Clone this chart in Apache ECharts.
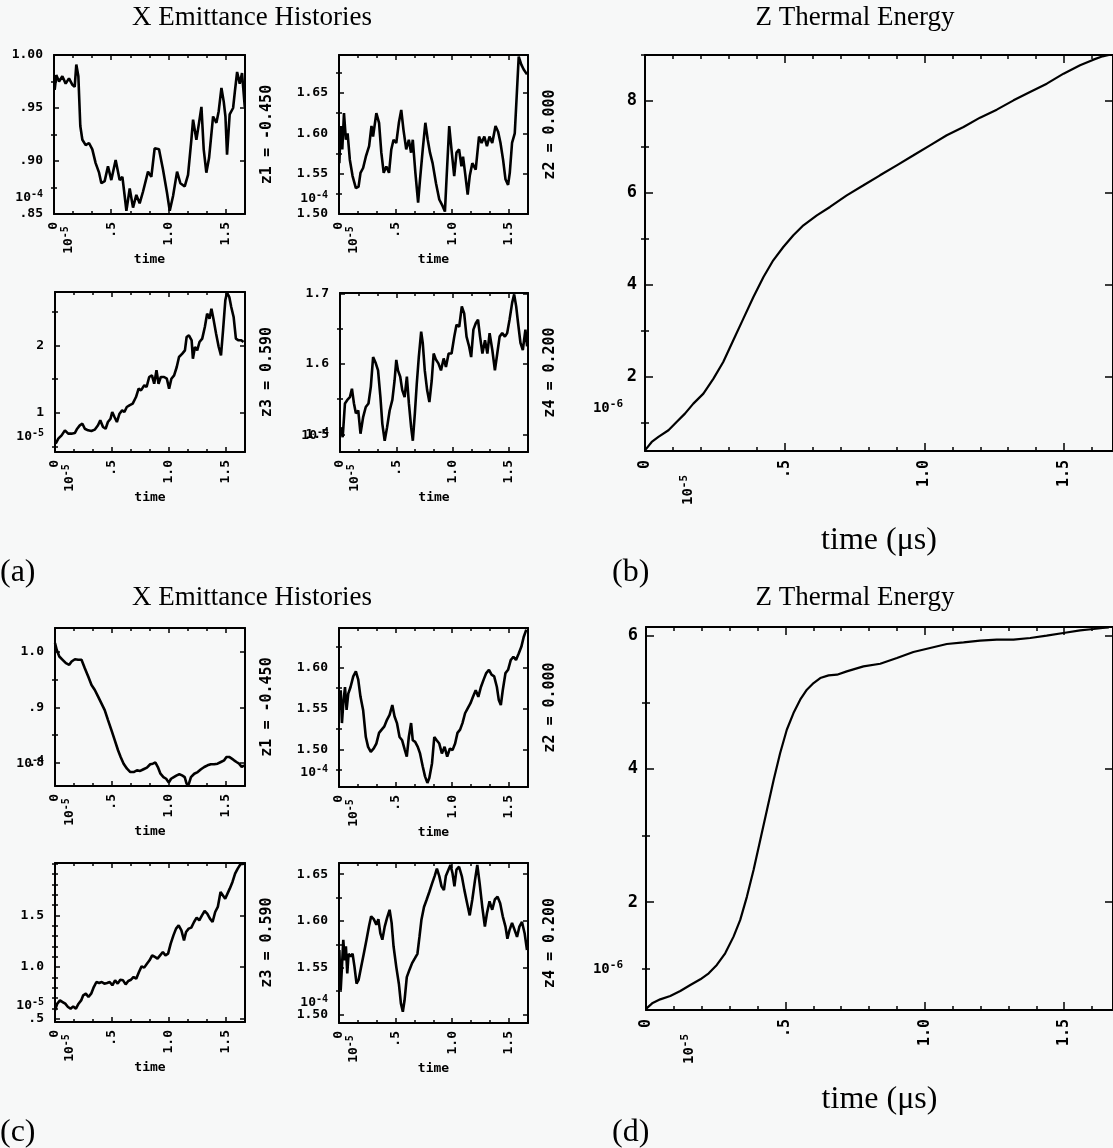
<!DOCTYPE html>
<html><head><meta charset="utf-8">
<script src="https://cdn.jsdelivr.net/npm/echarts@6/dist/echarts.min.js"></script>
<style>html,body{margin:0;padding:0;background:#f7f8f8}#c{width:1113px;height:1148px}</style>
</head><body><div id="c"></div>
<script>
// ---------------- data (time in us, value) ----------------
const a_z1 = [[0.006,0.967],[0.020,0.981],[0.044,0.975],[0.073,0.980],[0.102,0.973],[0.131,0.978],[0.160,0.972],[0.181,0.970],[0.195,0.991],[0.213,0.980],[0.230,0.933],[0.248,0.920],[0.277,0.915],[0.306,0.917],[0.335,0.911],[0.364,0.898],[0.394,0.889],[0.414,0.879],[0.443,0.881],[0.472,0.895],[0.501,0.882],[0.539,0.901],[0.574,0.882],[0.598,0.885],[0.618,0.867],[0.633,0.853],[0.662,0.874],[0.691,0.856],[0.720,0.868],[0.749,0.860],[0.778,0.871],[0.822,0.890],[0.851,0.885],[0.880,0.912],[0.918,0.911],[0.953,0.892],[0.988,0.870],[1.012,0.853],[1.041,0.867],[1.076,0.890],[1.105,0.879],[1.143,0.876],[1.172,0.887],[1.201,0.920],[1.216,0.939],[1.245,0.920],[1.268,0.936],[1.289,0.951],[1.309,0.911],[1.332,0.889],[1.356,0.903],[1.391,0.942],[1.420,0.936],[1.440,0.947],[1.464,0.969],[1.484,0.956],[1.499,0.942],[1.513,0.906],[1.536,0.944],[1.566,0.950],[1.583,0.967],[1.601,0.984],[1.624,0.973],[1.644,0.983],[1.668,0.951]];
const a_z2 = [[0.003,1.563],[0.015,1.609],[0.029,1.580],[0.044,1.625],[0.061,1.592],[0.076,1.600],[0.096,1.567],[0.120,1.547],[0.149,1.532],[0.173,1.534],[0.190,1.551],[0.213,1.557],[0.237,1.571],[0.266,1.584],[0.287,1.609],[0.301,1.596],[0.330,1.625],[0.354,1.613],[0.374,1.576],[0.395,1.551],[0.418,1.559],[0.442,1.551],[0.462,1.580],[0.482,1.592],[0.506,1.588],[0.529,1.613],[0.550,1.629],[0.570,1.604],[0.594,1.580],[0.617,1.592],[0.637,1.576],[0.652,1.592],[0.675,1.551],[0.699,1.514],[0.716,1.543],[0.740,1.580],[0.763,1.613],[0.784,1.592],[0.804,1.576],[0.827,1.563],[0.857,1.538],[0.886,1.518],[0.915,1.510],[0.936,1.503],[0.950,1.543],[0.974,1.609],[0.994,1.580],[1.018,1.547],[1.038,1.576],[1.061,1.580],[1.082,1.559],[1.096,1.571],[1.114,1.551],[1.137,1.524],[1.155,1.547],[1.178,1.563],[1.208,1.555],[1.237,1.596],[1.260,1.588],[1.284,1.596],[1.307,1.584],[1.330,1.596],[1.354,1.588],[1.383,1.609],[1.406,1.602],[1.427,1.588],[1.450,1.567],[1.471,1.543],[1.494,1.536],[1.509,1.551],[1.529,1.588],[1.553,1.600],[1.573,1.654],[1.588,1.695],[1.611,1.685],[1.632,1.679],[1.661,1.673]];
const a_z3 = [[0.006,0.547],[0.029,0.621],[0.058,0.670],[0.087,0.744],[0.116,0.695],[0.145,0.695],[0.174,0.704],[0.195,0.768],[0.218,0.818],[0.241,0.842],[0.262,0.768],[0.291,0.744],[0.320,0.734],[0.349,0.754],[0.378,0.818],[0.398,0.892],[0.422,0.793],[0.445,0.768],[0.465,0.867],[0.488,0.916],[0.503,1.015],[0.523,0.941],[0.544,0.867],[0.567,0.990],[0.590,1.039],[0.610,1.015],[0.631,1.089],[0.654,1.113],[0.683,1.138],[0.712,1.236],[0.735,1.360],[0.756,1.335],[0.785,1.409],[0.805,1.384],[0.828,1.532],[0.852,1.557],[0.872,1.433],[0.892,1.631],[0.910,1.433],[0.930,1.532],[0.959,1.532],[0.983,1.507],[1.003,1.360],[1.023,1.507],[1.047,1.557],[1.070,1.680],[1.090,1.828],[1.119,1.877],[1.142,1.926],[1.157,2.123],[1.177,2.148],[1.201,2.074],[1.212,1.803],[1.230,1.975],[1.250,1.926],[1.270,2.049],[1.294,2.099],[1.317,2.271],[1.337,2.468],[1.358,2.394],[1.375,2.542],[1.395,2.369],[1.416,2.172],[1.439,1.975],[1.459,1.852],[1.477,2.222],[1.497,2.665],[1.512,2.780],[1.532,2.714],[1.549,2.567],[1.570,2.419],[1.590,2.099],[1.613,2.074],[1.637,2.074],[1.657,2.049]];
const a_z4 = [[0.006,1.510],[0.024,1.496],[0.044,1.544],[0.065,1.549],[0.088,1.553],[0.106,1.565],[0.124,1.544],[0.141,1.530],[0.162,1.534],[0.182,1.501],[0.206,1.525],[0.229,1.539],[0.253,1.544],[0.274,1.568],[0.294,1.610],[0.318,1.601],[0.338,1.591],[0.359,1.553],[0.376,1.515],[0.397,1.491],[0.418,1.510],[0.441,1.534],[0.465,1.549],[0.485,1.577],[0.500,1.606],[0.515,1.591],[0.535,1.582],[0.553,1.563],[0.574,1.553],[0.594,1.582],[0.612,1.544],[0.632,1.510],[0.647,1.491],[0.665,1.530],[0.682,1.572],[0.700,1.610],[0.721,1.646],[0.735,1.630],[0.753,1.591],[0.774,1.563],[0.794,1.546],[0.815,1.577],[0.832,1.615],[0.853,1.606],[0.874,1.601],[0.897,1.591],[0.921,1.608],[0.941,1.596],[0.965,1.615],[0.991,1.615],[1.015,1.639],[1.035,1.656],[1.059,1.653],[1.082,1.682],[1.103,1.672],[1.124,1.639],[1.147,1.625],[1.165,1.610],[1.185,1.649],[1.206,1.658],[1.226,1.663],[1.244,1.639],[1.265,1.615],[1.288,1.634],[1.309,1.615],[1.329,1.644],[1.353,1.620],[1.376,1.591],[1.397,1.615],[1.418,1.639],[1.441,1.644],[1.465,1.639],[1.485,1.644],[1.506,1.663],[1.529,1.687],[1.547,1.699],[1.565,1.682],[1.582,1.658],[1.603,1.630],[1.624,1.620],[1.647,1.649],[1.662,1.625]];
const b_energy = [[0.002,0.42],[0.024,0.587],[0.048,0.696],[0.084,0.841],[0.113,1.022],[0.143,1.203],[0.173,1.420],[0.209,1.638],[0.245,1.964],[0.280,2.326],[0.316,2.797],[0.352,3.268],[0.388,3.739],[0.424,4.174],[0.459,4.536],[0.495,4.826],[0.531,5.080],[0.567,5.297],[0.615,5.514],[0.662,5.696],[0.722,5.949],[0.782,6.167],[0.841,6.384],[0.901,6.601],[0.961,6.819],[1.020,7.036],[1.080,7.254],[1.140,7.435],[1.199,7.638],[1.259,7.812],[1.319,8.014],[1.378,8.196],[1.438,8.377],[1.498,8.594],[1.557,8.775],[1.605,8.899],[1.638,8.971],[1.660,9.0]];
const c_z1 = [[0.0,1.015],[0.015,1.003],[0.038,0.991],[0.067,0.985],[0.096,0.979],[0.125,0.976],[0.146,0.982],[0.175,0.986],[0.204,0.985],[0.233,0.985],[0.262,0.970],[0.292,0.955],[0.321,0.940],[0.350,0.931],[0.379,0.919],[0.408,0.907],[0.437,0.895],[0.466,0.877],[0.496,0.859],[0.525,0.841],[0.554,0.823],[0.577,0.811],[0.603,0.799],[0.633,0.790],[0.662,0.784],[0.691,0.784],[0.720,0.787],[0.749,0.786],[0.778,0.789],[0.808,0.792],[0.837,0.798],[0.860,0.799],[0.883,0.801],[0.904,0.793],[0.927,0.781],[0.953,0.775],[0.977,0.772],[1.000,0.765],[1.020,0.772],[1.044,0.775],[1.070,0.778],[1.093,0.780],[1.117,0.778],[1.140,0.775],[1.157,0.763],[1.175,0.762],[1.195,0.775],[1.224,0.781],[1.254,0.784],[1.283,0.789],[1.312,0.793],[1.341,0.796],[1.370,0.798],[1.399,0.798],[1.429,0.799],[1.458,0.802],[1.487,0.805],[1.507,0.811],[1.531,0.811],[1.554,0.808],[1.574,0.805],[1.595,0.802],[1.618,0.799],[1.641,0.793],[1.662,0.796]];
const c_z2 = [[0.003,1.548],[0.015,1.572],[0.026,1.532],[0.038,1.556],[0.053,1.576],[0.067,1.548],[0.082,1.568],[0.102,1.576],[0.126,1.589],[0.149,1.595],[0.170,1.585],[0.190,1.564],[0.213,1.548],[0.237,1.515],[0.257,1.503],[0.281,1.497],[0.307,1.501],[0.330,1.507],[0.354,1.520],[0.377,1.524],[0.401,1.528],[0.424,1.536],[0.447,1.542],[0.471,1.554],[0.491,1.540],[0.512,1.532],[0.535,1.515],[0.558,1.511],[0.582,1.499],[0.599,1.491],[0.617,1.515],[0.637,1.532],[0.652,1.511],[0.673,1.509],[0.696,1.503],[0.716,1.495],[0.740,1.479],[0.760,1.467],[0.781,1.459],[0.798,1.465],[0.822,1.483],[0.842,1.515],[0.863,1.511],[0.886,1.507],[0.909,1.495],[0.933,1.503],[0.956,1.491],[0.980,1.501],[1.003,1.499],[1.026,1.507],[1.047,1.520],[1.070,1.524],[1.091,1.532],[1.114,1.544],[1.137,1.550],[1.161,1.556],[1.184,1.564],[1.208,1.572],[1.231,1.564],[1.254,1.576],[1.278,1.585],[1.301,1.593],[1.325,1.597],[1.348,1.591],[1.371,1.589],[1.395,1.576],[1.412,1.560],[1.430,1.554],[1.447,1.572],[1.471,1.593],[1.494,1.597],[1.518,1.609],[1.541,1.613],[1.564,1.609],[1.588,1.617],[1.611,1.625],[1.632,1.637],[1.655,1.646]];
const c_z3 = [[0.0,0.581],[0.020,0.645],[0.044,0.677],[0.067,0.661],[0.090,0.645],[0.114,0.613],[0.137,0.597],[0.160,0.619],[0.184,0.597],[0.207,0.645],[0.230,0.677],[0.248,0.726],[0.271,0.742],[0.294,0.710],[0.318,0.742],[0.341,0.806],[0.364,0.855],[0.388,0.845],[0.411,0.855],[0.434,0.839],[0.458,0.845],[0.481,0.855],[0.504,0.823],[0.528,0.871],[0.551,0.839],[0.574,0.877],[0.598,0.871],[0.621,0.832],[0.644,0.865],[0.668,0.877],[0.691,0.903],[0.714,0.887],[0.738,0.952],[0.761,1.006],[0.784,0.994],[0.808,1.032],[0.831,1.065],[0.854,1.113],[0.878,1.097],[0.901,1.081],[0.924,1.113],[0.948,1.145],[0.971,1.113],[0.994,1.129],[1.017,1.226],[1.041,1.306],[1.064,1.371],[1.087,1.403],[1.111,1.355],[1.134,1.258],[1.152,1.339],[1.175,1.371],[1.198,1.381],[1.222,1.435],[1.245,1.477],[1.268,1.452],[1.292,1.500],[1.315,1.542],[1.338,1.516],[1.362,1.468],[1.385,1.435],[1.408,1.532],[1.431,1.581],[1.455,1.726],[1.472,1.742],[1.496,1.661],[1.516,1.710],[1.536,1.758],[1.560,1.823],[1.583,1.903],[1.606,1.952],[1.630,1.994],[1.662,2.0]];
const c_z4 = [[0.003,1.569],[0.015,1.526],[0.026,1.551],[0.038,1.580],[0.050,1.558],[0.061,1.573],[0.073,1.544],[0.085,1.565],[0.102,1.562],[0.120,1.565],[0.137,1.551],[0.155,1.533],[0.173,1.537],[0.196,1.551],[0.219,1.565],[0.243,1.580],[0.266,1.595],[0.284,1.605],[0.307,1.602],[0.330,1.596],[0.348,1.602],[0.365,1.587],[0.383,1.580],[0.404,1.594],[0.424,1.603],[0.447,1.612],[0.465,1.598],[0.482,1.573],[0.506,1.551],[0.529,1.533],[0.547,1.512],[0.564,1.503],[0.579,1.515],[0.599,1.540],[0.623,1.548],[0.646,1.555],[0.670,1.560],[0.693,1.565],[0.711,1.583],[0.728,1.601],[0.751,1.615],[0.775,1.623],[0.798,1.631],[0.822,1.640],[0.845,1.648],[0.865,1.656],[0.886,1.648],[0.906,1.637],[0.927,1.633],[0.944,1.648],[0.968,1.655],[0.985,1.660],[1.003,1.651],[1.020,1.637],[1.038,1.655],[1.061,1.658],[1.085,1.648],[1.108,1.633],[1.132,1.619],[1.155,1.606],[1.178,1.623],[1.202,1.644],[1.222,1.660],[1.243,1.640],[1.266,1.615],[1.289,1.594],[1.307,1.608],[1.330,1.621],[1.354,1.612],[1.377,1.623],[1.401,1.626],[1.424,1.619],[1.447,1.605],[1.471,1.594],[1.488,1.581],[1.506,1.590],[1.529,1.598],[1.553,1.590],[1.573,1.583],[1.594,1.594],[1.617,1.599],[1.640,1.587],[1.661,1.569]];
const d_energy = [[0.002,0.408],[0.022,0.483],[0.051,0.543],[0.087,0.593],[0.123,0.668],[0.159,0.758],[0.195,0.844],[0.225,0.934],[0.254,1.059],[0.284,1.234],[0.314,1.484],[0.338,1.735],[0.362,2.085],[0.386,2.486],[0.410,2.936],[0.434,3.387],[0.458,3.838],[0.481,4.235],[0.505,4.588],[0.529,4.839],[0.553,5.039],[0.577,5.189],[0.601,5.289],[0.625,5.364],[0.655,5.404],[0.685,5.414],[0.720,5.464],[0.780,5.539],[0.840,5.579],[0.900,5.665],[0.959,5.755],[1.019,5.815],[1.079,5.875],[1.139,5.900],[1.198,5.925],[1.258,5.940],[1.318,5.940],[1.378,5.965],[1.437,6.000],[1.497,6.040],[1.557,6.080],[1.605,6.100],[1.638,6.115],[1.660,6.125]];

// ---------------- tick values / labels ----------------
const xTickLabels = [0, 0.5, 1.0, 1.5];
const xMinorSmall = [0.167, 0.333, 0.667, 0.833, 1.167, 1.333, 1.667];
const xMinorBig = [0.1, 0.2, 0.3, 0.4, 0.6, 0.7, 0.8, 0.9, 1.1, 1.2, 1.3, 1.4, 1.6];
const yLab_a1 = [0.85, 0.90, 0.95, 1.00], yMin_a1 = [0.875, 0.925, 0.975];
const yLab_a2 = [1.50, 1.55, 1.60, 1.65], yMin_a2 = [1.525, 1.575, 1.625, 1.675];
const yLab_a3 = [1, 2],                   yMin_a3 = [0.5, 1.5, 2.5];
const yLab_a4 = [1.5, 1.6, 1.7],          yMin_a4 = [1.55, 1.65];
const yLab_c1 = [0.8, 0.9, 1.0],          yMin_c1 = [0.85, 0.95];
const yLab_c2 = [1.50, 1.55, 1.60],       yMin_c2 = [1.475, 1.525, 1.575, 1.625];
const yLab_c3 = [0.5, 1.0, 1.5],          yMin_c3 = [0.6, 0.7, 0.8, 0.9, 1.1, 1.2, 1.3, 1.4, 1.6, 1.7, 1.8, 1.9, 2.0];
const yLab_c4 = [1.50, 1.55, 1.60, 1.65], yMin_c4 = [1.525, 1.575, 1.625];
const yLab_b = [2, 4, 6, 8], yMin_b = [1, 3, 5, 7, 9];
const yLab_d = [2, 4, 6],    yMin_d = [1, 3, 5];
const zNames = ['z1 = -0.450', 'z2 = 0.000', 'z3 = 0.590', 'z4 = 0.200'];

const MONO = '"DejaVu Sans Mono", monospace';
const SERIF = '"Liberation Serif", "DejaVu Serif", serif';

// ---------------- panel layout ----------------
const panels = [
  {d:a_z1, box:[54,55,191,159],  ext:[0.85,1.00],   lab:yLab_a1, mn:yMin_a1, dec:2, z:zNames[0], exp:'-4', expY:198},
  {d:a_z2, box:[339,55,189,159], ext:[1.50,1.697],  lab:yLab_a2, mn:yMin_a2, dec:2, z:zNames[1], exp:'-4', expY:199},
  {d:a_z3, box:[55,292,190,160], ext:[0.424,2.788], lab:yLab_a3, mn:yMin_a3, dec:0, z:zNames[2], exp:'-5', expY:437},
  {d:a_z4, box:[340,293,188,159],ext:[1.475,1.701], lab:yLab_a4, mn:yMin_a4, dec:1, z:zNames[3], exp:'-4', expY:436},
  {d:c_z1, box:[55,628,190,158], ext:[0.759,1.042], lab:yLab_c1, mn:yMin_c1, dec:1, z:zNames[0], exp:'-4', expY:764},
  {d:c_z2, box:[339,628,189,159],ext:[1.454,1.648], lab:yLab_c2, mn:yMin_c2, dec:2, z:zNames[1], exp:'-4', expY:773},
  {d:c_z3, box:[55,863,190,159], ext:[0.468,2.006], lab:yLab_c3, mn:yMin_c3, dec:1, z:zNames[2], exp:'-5', expY:1006},
  {d:c_z4, box:[339,863,189,160],ext:[1.491,1.662], lab:yLab_c4, mn:yMin_c4, dec:2, z:zNames[3], exp:'-4', expY:1003},
  {d:b_energy, box:[645,55,469,396], ext:[0.39,9.0],  lab:yLab_b, mn:yMin_b, dec:0, big:true, exp:'-6', expY:408},
  {d:d_energy, box:[646,627,468,383],ext:[0.383,6.13],lab:yLab_d, mn:yMin_d, dec:0, big:true, exp:'-6', expY:969}
];

function fmt(v, dec) {
  if (Math.abs(v) < 1e-9) return '0';
  let s = v.toFixed(dec);
  if (s.indexOf('0.') === 0) s = s.slice(1);
  return s;
}
function powText(e, size) {
  return {
    text: '{n|10}{s|' + e + '}',
    rich: {
      n: {fontFamily: MONO, fontWeight: 'bold', fontSize: size, lineHeight: size + 4, fill: '#000', color: '#000'},
      s: {fontFamily: MONO, fontWeight: 'bold', fontSize: size - 3, verticalAlign: 'top', lineHeight: size - 3, fill: '#000', color: '#000'}
    }
  };
}

const grids = [], xAxes = [], yAxes = [], series = [], graphic = [];
const BLACK = '#000';
panels.forEach((p, gi) => {
  const [L, T, W, H] = p.box;
  const big = !!p.big;
  const xMax = big ? 1.675 : 1.67;
  grids.push({left: L, top: T, width: W, height: H, containLabel: false});
  const lineS = {show: true, onZero: false, lineStyle: {color: BLACK, width: 2}};
  const majLen = big ? 8 : 5, minLen = big ? 4 : 3;
  const tickS = (vals, len) => ({show: true, inside: true, length: len, customValues: vals, lineStyle: {color: BLACK, width: 1.5}});
  const baseX = {type: 'value', gridIndex: gi, min: 0, max: xMax, splitLine: {show: false}, axisLabel: {show: false}, axisLine: {show: false}};
  const fs = big ? 15 : 13;
  xAxes.push(Object.assign({}, baseX, {
    position: 'bottom', axisLine: lineS, axisTick: tickS(xTickLabels, majLen),
    axisLabel: {show: true, customValues: xTickLabels, rotate: 90, margin: big ? 9 : 8,
      formatter: v => fmt(v, 1), color: BLACK, fontFamily: MONO, fontWeight: 'bold', fontSize: fs},
    name: big ? 'time (μs)' : 'time', nameLocation: 'middle', nameGap: big ? 74 : 39,
    nameTextStyle: big ? {fontFamily: SERIF, fontSize: 32, color: BLACK}
                       : {fontFamily: MONO, fontWeight: 'bold', fontSize: 13, color: BLACK}
  }));
  xAxes.push(Object.assign({}, baseX, {position: 'bottom', axisTick: tickS(big ? xMinorBig : xMinorSmall, minLen)}));
  xAxes.push(Object.assign({}, baseX, {position: 'top', axisLine: lineS, axisTick: tickS(xTickLabels, majLen)}));
  xAxes.push(Object.assign({}, baseX, {position: 'top', axisTick: tickS(big ? xMinorBig : xMinorSmall, minLen)}));

  const baseY = {type: 'value', gridIndex: gi, min: p.ext[0], max: p.ext[1], splitLine: {show: false}, axisLabel: {show: false}, axisLine: {show: false}};
  yAxes.push(Object.assign({}, baseY, {
    position: 'left', axisLine: lineS, axisTick: tickS(p.lab, majLen),
    axisLabel: {show: true, customValues: p.lab, margin: big ? 8 : 11, formatter: v => fmt(v, p.dec),
      color: BLACK, fontFamily: MONO, fontWeight: 'bold', fontSize: big ? 17 : 13}
  }));
  yAxes.push(Object.assign({}, baseY, {position: 'left', axisTick: tickS(p.mn, minLen)}));
  const right = Object.assign({}, baseY, {position: 'right', axisLine: lineS, axisTick: tickS(p.lab, majLen)});
  if (p.z) {
    Object.assign(right, {name: p.z, nameLocation: 'middle', nameRotate: 90, nameGap: 15,
      nameTextStyle: {fontFamily: MONO, fontWeight: 'bold', fontSize: 15, color: BLACK}});
  }
  yAxes.push(right);
  yAxes.push(Object.assign({}, baseY, {position: 'right', axisTick: tickS(p.mn, minLen)}));

  series.push({type: 'line', xAxisIndex: gi * 4, yAxisIndex: gi * 4, data: p.d, showSymbol: false,
    symbol: 'none', clip: true, lineStyle: {color: BLACK, width: big ? 2.2 : 2.6}, silent: true});

  // exponent label on y axis
  const ps = powText(p.exp, big ? 14 : 13);
  graphic.push({type: 'text', x: big ? 623 : L - 11, y: p.expY,
    style: Object.assign({textAlign: 'right', textVerticalAlign: 'middle', fill: BLACK}, ps)});
  // exponent label on x axis (rotated)
  const px = powText('-5', big ? 14 : 13);
  graphic.push({type: 'text', x: L + (big ? 43 : 15), y: T + H + (big ? 39 : 26), rotation: Math.PI / 2,
    style: Object.assign({textAlign: 'center', textVerticalAlign: 'middle', fill: BLACK}, px)});
});

const titles = [
  ['X Emittance Histories', 252, 18], ['Z Thermal Energy', 855, 18],
  ['X Emittance Histories', 252, 598], ['Z Thermal Energy', 855, 598]
];
titles.forEach(t => graphic.push({type: 'text', x: t[1], y: t[2],
  style: {text: t[0], textAlign: 'center', textVerticalAlign: 'middle', fill: BLACK, font: '27px ' + SERIF}}));
const tags = [['(a)', 0, 573], ['(b)', 612, 573], ['(c)', 0, 1133], ['(d)', 612, 1133]];
tags.forEach(t => graphic.push({type: 'text', x: t[1], y: t[2],
  style: {text: t[0], textAlign: 'left', textVerticalAlign: 'middle', fill: BLACK, font: '32px ' + SERIF}}));

const chart = echarts.init(document.getElementById('c'), null, {renderer: 'canvas'});
chart.setOption({
  backgroundColor: '#f7f8f8',
  animation: false,
  grid: grids, xAxis: xAxes, yAxis: yAxes, series: series, graphic: graphic
});
</script></body></html>
